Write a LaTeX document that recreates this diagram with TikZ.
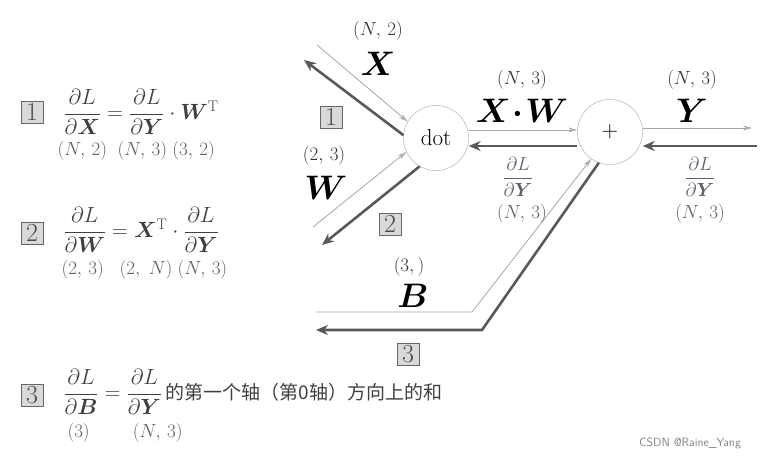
\RequirePackage{fix-cm}
\documentclass[tikz,border=0pt]{standalone}
\usepackage{amsmath,bm}
\usepackage{fontspec}
\newfontfamily\cjk{Noto Sans CJK SC}
\usetikzlibrary{arrows.meta,positioning}
\definecolor{dimgray}{RGB}{95,95,110}
\newcommand{\opsize}{\fontsize{23}{24}\selectfont}
\newcommand{\boxsize}{\fontsize{26}{26}\selectfont}
\tikzset{
  fwd/.style={draw=gray!70, line width=0.8pt, -{Stealth[open,length=9pt,width=5pt]}},
  bwd/.style={draw=black!65, line width=2.6pt, -{Stealth[length=12pt,width=10pt]}},
  opnode/.style={circle, draw=gray!70, minimum size=65pt, inner sep=0pt},
  numbox/.style={draw=black!60, fill=gray!30, line width=1pt, inner sep=1pt, minimum size=22pt, text=black!70},
  dim/.style={text=dimgray, font=\fontsize{19}{21}\selectfont},
  var/.style={font=\fontsize{34}{36}\selectfont},
  eq/.style={font=\fontsize{22}{24}\selectfont, text=black!75, anchor=west}
}
\begin{document}
\begin{tikzpicture}[x=1pt,y=-1pt]
  \useasboundingbox (0,0) rectangle (778,463);

  % Nodes
  \node[opnode] (dot) at (436,138) {\opsize dot};
  \node[opnode] (plus) at (610,132) {\opsize $+$};

  % Forward
  \coordinate (xin) at (317,45);
  \coordinate (win) at (313,227);
  \coordinate (yout) at (752,128);
  \coordinate (bin) at (316,312);
  \coordinate (bk) at (472,312);
  \draw[fwd] (xin) -- (dot.150);
  \draw[fwd] (win) -- (dot.205);
  \draw[fwd] (dot.east |- 0,130) -- (plus.west |- 0,130);
  \draw[fwd] (plus.east |- 0,128) -- (yout);
  \draw[fwd] (bin) -- (bk) -- (plus.235);

  % Backward
  \coordinate (xback) at (304,60);
  \coordinate (wback) at (322,245);
  \coordinate (yin) at (757,146);
  \coordinate (bback) at (316,330);
  \coordinate (bk2) at (482,330);
  \draw[bwd] (dot.175) -- (xback);
  \draw[bwd] (dot.240) -- (wback);
  \draw[bwd] (plus.west |- 0,146) -- (dot.east |- 0,146);
  \draw[bwd] (yin) -- (plus.east |- 0,146);
  \draw[bwd] (plus.250) -- (bk2) -- (bback);

  % Labels
  \node[dim, text=black!80] (dimx) at (378,31) {$(N,\,2)$};
  \node[var] (lx) at (378,64) {$\bm{X}$};
  \node[numbox] (b1) at (331,117) {\boxsize 1};
  \node[dim, text=black!80] (dimw) at (324,156) {$(2,\,3)$};
  \node[var] (lw) at (326,188) {$\bm{W}$};
  \node[numbox] (b2) at (390,224) {\boxsize 2};
  \node[dim, text=black!80] (dimxw) at (522,80) {$(N,\,3)$};
  \node[var] (lxw) at (522,111) {$\bm{X}\!\bm{\cdot}\!\bm{W}$};
  \node[dim] (gxw) at (518,177) {$\dfrac{\partial L}{\partial \bm{Y}}$};
  \node[dim] (dgxw) at (522,214) {$(N,\,3)$};
  \node[dim, text=black!80] (dimy) at (692,80) {$(N,\,3)$};
  \node[var] (ly) at (692,111) {$\bm{Y}$};
  \node[dim] (gy) at (700,177) {$\dfrac{\partial L}{\partial \bm{Y}}$};
  \node[dim] (dgy) at (700,214) {$(N,\,3)$};
  \node[dim, text=black!80] (dimb) at (409,267) {$(3,)$};
  \node[var] (lb) at (413,296) {$\bm{B}$};
  \node[numbox] (b3) at (408,354) {\boxsize 3};

  % Equations
  \node[numbox] (e1) at (32,112) {\boxsize 1};
  \node[eq] (eq1) at (60,112) {$\dfrac{\partial L}{\partial \bm{X}} = \dfrac{\partial L}{\partial \bm{Y}}\cdot \bm{W}^{\mathrm{T}}$};
  \node[dim, anchor=west] at (54,151) {$(N,\,2)\;\;(N,\,3)\;(3,\,2)$};
  \node[numbox] (e2) at (32,233) {\boxsize 2};
  \node[eq] (eq2) at (60,230) {$\dfrac{\partial L}{\partial \bm{W}} = \bm{X}^{\mathrm{T}}\cdot\dfrac{\partial L}{\partial \bm{Y}}$};
  \node[dim, anchor=west] at (58,270) {$(2,\,3)\;\;\;(2,\;N)\;(N,\,3)$};
  \node[numbox] (e3) at (32,395) {\boxsize 3};
  \node[eq] (eq3) at (60,392) {$\dfrac{\partial L}{\partial \bm{B}} = \dfrac{\partial L}{\partial \bm{Y}}$\,{\cjk\fontsize{19}{20}\selectfont 的第一个轴（第0轴）方向上的和}};
  \node[dim, anchor=west] at (64,433) {$(3)\qquad\;(N,\,3)$};

  \node[text=gray, font=\sffamily\fontsize{12}{14}\selectfont] (wm) at (690,443) {CSDN @Raine\_Yang};
\end{tikzpicture}
\end{document}
